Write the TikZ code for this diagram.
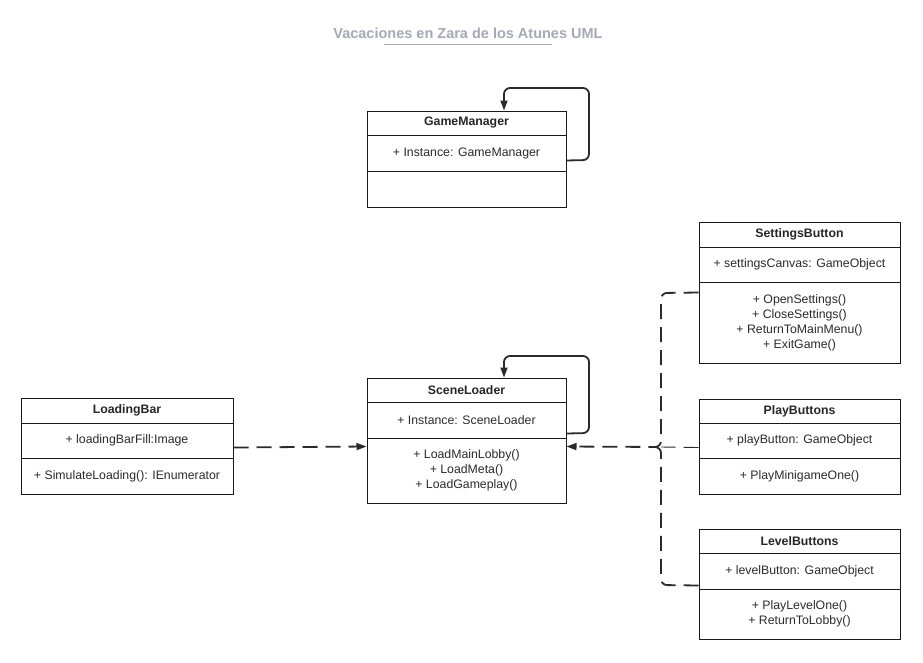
\documentclass[tikz,border=0pt]{standalone}
\usepackage{fontspec}
\setmainfont{Liberation Sans}
\usetikzlibrary{arrows.meta,calc}
\definecolor{titlegray}{HTML}{A6A9B6}
\definecolor{ink}{HTML}{2B2B2B}
\begin{document}
\begin{tikzpicture}[x=1pt,y=-1pt,
  cell/.style={draw=black!90,line width=1pt,inner sep=0pt,align=center,
    font=\fontsize{12.3}{15}\selectfont,text=ink},
  ttl/.style={cell,font=\bfseries\fontsize{12.3}{15}\selectfont,text=black!85},
  selfloop/.style={draw=ink,line width=1.8pt,rounded corners=6pt,-{Triangle[length=10pt,width=7pt]}},
  dep/.style={draw=ink,line width=1.8pt,dash pattern=on 15pt off 8pt,rounded corners=6pt},
  depthin/.style={draw=ink,line width=0.9pt,dash pattern=on 15pt off 8pt}
]
\useasboundingbox[fill=white] (0,0) rectangle (923,662);

% title
\node[font=\bfseries\fontsize{14.5}{17}\selectfont,text=titlegray,inner sep=0pt] (title) at (468,33) {Vacaciones en Zara de los Atunes UML};
\draw[titlegray,line width=1.2pt] ($(title.south)+(-84,6)$) -- ($(title.south)+(84,6)$);

% GameManager
\node[ttl,minimum width=199pt,minimum height=24pt] (gmT) at (466.5,123) {GameManager};
\node[cell,minimum width=199pt,minimum height=36pt] (gmA) at (466.5,153) {+ Instance: GameManager};
\node[cell,minimum width=199pt,minimum height=36pt] (gmM) at (466.5,189) {};

% SceneLoader
\node[ttl,minimum width=199pt,minimum height=24pt] (slT) at (466.5,390) {SceneLoader};
\node[cell,minimum width=199pt,minimum height=36pt] (slA) at (466.5,420) {+ Instance: SceneLoader};
\node[cell,minimum width=199pt,minimum height=65pt] (slM) at (466.5,470.5) {+ LoadMainLobby()\\+ LoadMeta()\\+ LoadGameplay()};

% LoadingBar
\node[ttl,minimum width=212pt,minimum height=25pt] (lbT) at (127,410.5) {LoadingBar};
\node[cell,minimum width=212pt,minimum height=35pt] (lbA) at (127,440.5) {+ loadingBarFill:Image};
\node[cell,minimum width=212pt,minimum height=36pt] (lbM) at (127,476) {+ SimulateLoading(): IEnumerator};

% SettingsButton
\node[ttl,minimum width=201pt,minimum height=25pt] (sbT) at (799.5,234.5) {SettingsButton};
\node[cell,minimum width=201pt,minimum height=35pt] (sbA) at (799.5,264.5) {+ settingsCanvas: GameObject};
\node[cell,minimum width=201pt,minimum height=81pt] (sbM) at (799.5,322.5) {+ OpenSettings()\\+ CloseSettings()\\+ ReturnToMainMenu()\\+ ExitGame()};

% PlayButtons
\node[ttl,minimum width=201pt,minimum height=24pt] (pbT) at (799.5,411) {PlayButtons};
\node[cell,minimum width=201pt,minimum height=35pt] (pbA) at (799.5,440.5) {+ playButton: GameObject};
\node[cell,minimum width=201pt,minimum height=36pt] (pbM) at (799.5,476) {+ PlayMinigameOne()};

% LevelButtons
\node[ttl,minimum width=201pt,minimum height=24pt] (lvT) at (799.5,541) {LevelButtons};
\node[cell,minimum width=201pt,minimum height=36pt] (lvA) at (799.5,571) {+ levelButton: GameObject};
\node[cell,minimum width=201pt,minimum height=50pt] (lvM) at (799.5,614) {+ PlayLevelOne()\\+ ReturnToLobby()};

% self loops
\draw[selfloop] ($(gmA.south east)+(0,-11)$) -- (589,160) -- (589,88) -- (504,88) -- ($(gmT.north)+(37.5,0)$);
\draw[selfloop] ($(slA.south east)+(0,-5)$) -- (589,433) -- (589,356) -- (504,356) -- ($(slT.north)+(37.5,0)$);

% dependencies
\draw[dep,-{Triangle[length=10pt,width=7pt]}] ($(lbA.south east)+(0,-11)$) -- ($(slM.north west)+(0,9)$);
\draw[dep,-{Triangle[length=10pt,width=7pt]}] ($(sbM.north west)+(0,11)$) -- (661,293) -- (661,447) -- ($(slM.north east)+(0,9)$);
\draw[dep] ($(lvA.south west)+(0,-4)$) -- (661,585) -- (661,447) -- (654,447);
\draw[depthin] ($(pbA.south west)+(0,-11)$) -- (661,447);
\end{tikzpicture}
\end{document}
